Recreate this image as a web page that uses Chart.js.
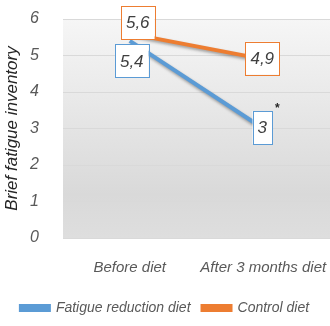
<!DOCTYPE html>
<html>
<head>
<meta charset="utf-8">
<script src="https://cdn.jsdelivr.net/npm/chart.js@4.4.0/dist/chart.umd.min.js"></script>
<style>
  html, body { margin: 0; padding: 0; background: #fff; }
  #wrap { width: 330px; height: 326px; }
</style>
</head>
<body>
<div id="wrap"><canvas id="chart" width="330" height="326"></canvas></div>
<script>
// Kategori dan nilai tiap seri
const categories = ["Before diet", "After 3 months diet"];
const fatigueDiet = [5.4, 3];
const controlDiet = [5.6, 4.9];
const yTicks = [0, 1, 2, 3, 4, 5, 6];

const FONT = "'Liberation Sans', sans-serif";
const TEXT = "#595959";

// Latar area plot dengan gradasi abu-abu
const plotBackground = {
  id: "plotBackground",
  beforeDraw(chart) {
    const { ctx, chartArea: a } = chart;
    const g = ctx.createLinearGradient(0, a.top, 0, a.bottom);
    g.addColorStop(0, "#f6f6f6");
    g.addColorStop(0.8, "#d9d9d9");
    g.addColorStop(1, "#dedede");
    ctx.save();
    ctx.fillStyle = g;
    ctx.fillRect(a.left, a.top, a.right - a.left, a.bottom - a.top);
    ctx.restore();
  },
};

// Bayangan tipis di bawah garis
const lineShadow = {
  id: "lineShadow",
  beforeDatasetsDraw(chart) {
    const ctx = chart.ctx;
    ctx.save();
    ctx.shadowColor = "rgba(0,0,0,0.35)";
    ctx.shadowBlur = 3;
    ctx.shadowOffsetX = 1;
    ctx.shadowOffsetY = 2;
  },
  afterDatasetsDraw(chart) {
    chart.ctx.restore();
  },
};

// Label nilai dalam kotak berbingkai warna seri
const valueBoxes = {
  id: "valueBoxes",
  afterDatasetsDraw(chart, args, opts) {
    const ctx = chart.ctx;
    ctx.save();
    ctx.font = "italic 17px " + FONT;
    ctx.textAlign = "center";
    ctx.textBaseline = "middle";
    chart.data.datasets.forEach((ds, di) => {
      const meta = chart.getDatasetMeta(di);
      meta.data.forEach((pt, i) => {
        const off = opts.offsets[di][i];
        const text = String(ds.data[i]).replace(".", ",");
        const w = ctx.measureText(text).width + 10;
        const h = 33;
        const cx = pt.x + off[0];
        const cy = pt.y + off[1];
        ctx.fillStyle = "#ffffff";
        ctx.fillRect(cx - w / 2, cy - h / 2, w, h);
        ctx.strokeStyle = ds.borderColor;
        ctx.lineWidth = 1;
        ctx.strokeRect(Math.round(cx - w / 2) + 0.5, Math.round(cy - h / 2) + 0.5, Math.round(w), h);
        ctx.fillStyle = "#404040";
        ctx.fillText(text, cx, cy + 1);
      });
    });
    // tanda signifikansi di samping nilai akhir
    const p = chart.getDatasetMeta(0).data[1];
    ctx.font = "bold 12px " + FONT;
    ctx.fillStyle = "#262626";
    ctx.fillText("*", p.x + 14, p.y - 20);
    ctx.restore();
  },
};

new Chart(document.getElementById("chart"), {
  type: "line",
  data: {
    labels: categories,
    datasets: [
      {
        label: "Fatigue reduction diet",
        data: fatigueDiet,
        borderColor: "#5b9bd5",
        backgroundColor: "#5b9bd5",
        borderWidth: 4,
        pointRadius: 0,
      },
      {
        label: "Control diet",
        data: controlDiet,
        borderColor: "#ed7d31",
        backgroundColor: "#ed7d31",
        borderWidth: 4,
        pointRadius: 0,
      },
    ],
  },
  options: {
    responsive: false,
    animation: false,
    layout: { padding: { top: 19, right: 0, left: 0, bottom: 1 } },
    plugins: {
      tooltip: { enabled: false },
      legend: {
        position: "bottom",
        labels: {
          boxWidth: 28,
          boxHeight: 4,
          color: TEXT,
          padding: 12,
          font: { family: FONT, style: "italic", size: 14 },
        },
      },
      valueBoxes: {
        offsets: [
          [[2, 20], [-1, -1]],
          [[8, -11], [-1, -1]],
        ],
      },
    },
    scales: {
      x: {
        offset: true,
        grid: { display: false },
        border: { display: false },
        afterFit(s) {
          s.height = 51;
          s.paddingLeft = 0;
          s.paddingRight = 0;
        },
        ticks: {
          color: TEXT,
          padding: 13,
          maxRotation: 0,
          autoSkip: false,
          font: { family: FONT, style: "italic", size: 15 },
        },
      },
      y: {
        min: 0,
        max: 6,
        afterBuildTicks(axis) {
          axis.ticks = yTicks.map((v) => ({ value: v }));
        },
        afterFit(s) {
          s.width = 63;
          s.paddingTop = 0;
          s.paddingBottom = 0;
        },
        grid: { color: "#d9d9d9", drawTicks: false },
        border: { display: false },
        ticks: {
          color: TEXT,
          padding: 24,
          font: { family: FONT, style: "italic", size: 16 },
        },
        title: {
          display: true,
          text: "Brief fatigue inventory",
          color: "#262626",
          padding: { top: 2, bottom: 6 },
          font: { family: FONT, style: "italic", size: 17 },
        },
      },
    },
  },
  plugins: [plotBackground, lineShadow, valueBoxes],
});
</script>
</body>
</html>
